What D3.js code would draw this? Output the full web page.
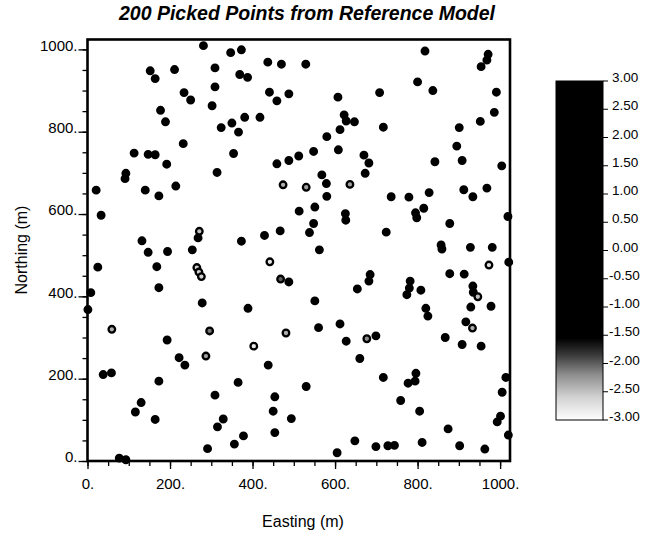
<!DOCTYPE html>
<html><head><meta charset="utf-8">
<script src="https://cdn.jsdelivr.net/npm/d3@7"></script>
<style>body{margin:0;background:#fff}svg{display:block}text{font-family:"Liberation Sans",Arial,Helvetica,sans-serif;fill:#000}</style>
</head><body>
<script>
// [easting (m), northing (m), value]; value < -1.5 drawn grey-centred
const points = [
[281,1009,1],[347,992,1],[373,999,1],[437,969,1],[470,964,1],[152,948,1],[211,951,1],[309,955,1],[164,929,1],[369,939,1],
[388,932,1],[309,909,1],[234,895,1],[250,877,1],[441,896,1],[488,892,1],[459,875,1],[302,863,1],[177,852,1],[189,824,1],
[381,835,1],[418,835,1],[324,810,1],[350,821,1],[366,799,1],[232,771,1],[113,748,1],[147,745,1],[164,744,1],[354,747,1],
[192,721,1],[459,722,1],[488,730,1],[512,741,1],[93,699,1],[91,686,1],[314,701,1],[21,658,1],[140,658,1],[173,644,1],
[214,668,1],[474,671,-2.4],[33,597,1],[513,607,1],[271,558,-2.5],[268,542,1],[132,535,1],[429,548,1],[467,559,1],[373,534,1],
[818,996,1],[971,988,1],[968,974,1],[954,958,1],[529,964,1],[800,921,1],[837,900,1],[991,896,1],[708,895,1],[607,884,1],
[986,847,1],[622,841,1],[627,826,1],[647,824,1],[952,825,1],[717,811,1],[901,810,1],[612,805,1],[580,788,1],[895,765,1],
[608,756,1],[548,752,1],[670,743,1],[682,724,1],[842,727,1],[908,730,1],[1004,717,1],[568,695,1],[673,699,1],[579,674,1],
[530,665,-2.3],[636,672,-2.3],[580,643,1],[736,642,1],[779,641,1],[828,652,1],[912,659,1],[934,642,1],[968,663,1],[551,617,1],
[625,601,1],[626,585,1],[795,603,1],[798,591,1],[815,614,1],[1019,594,1],[548,577,1],[538,555,1],[724,556,1],[878,577,1],
[147,507,1],[194,509,1],[254,513,1],[25,471,1],[168,472,1],[265,470,-2.6],[270,459,-2.6],[276,448,-2.6],[442,484,-2.8],[468,442,-2.0],
[488,435,1],[8,409,1],[173,421,1],[1,368,1],[278,384,1],[389,371,1],[59,320,-2.4],[296,316,-2.1],[481,311,-2.4],[193,294,1],
[403,279,-2.8],[222,251,1],[287,255,-2.3],[236,233,1],[438,233,1],[38,210,1],[58,214,1],[173,194,1],[365,191,1],[309,160,1],
[454,156,1],[130,142,1],[116,119,1],[164,101,1],[450,121,1],[494,103,1],[315,83,1],[329,102,1],[378,61,1],[454,69,1],
[356,41,1],[291,30,1],[77,7,1],[93,3,1],
[562,513,1],[857,525,1],[859,515,1],[928,519,1],[981,519,1],[973,476,-2.7],[1021,483,1],[685,453,1],[682,437,1],[878,455,1],
[913,454,1],[654,418,1],[782,437,1],[780,420,1],[774,404,1],[808,415,1],[934,425,1],[935,410,1],[946,399,-2.5],[978,376,1],
[929,374,1],[551,389,1],[820,371,1],[825,352,1],[917,338,1],[933,323,-2.4],[560,324,1],[612,333,1],[627,291,1],[677,297,-2.2],
[699,304,1],[867,300,1],[908,283,1],[954,279,1],[660,249,1],[717,203,1],[796,213,1],[794,194,1],[777,189,1],[1014,203,1],
[530,181,1],[1005,167,1],[759,147,1],[805,121,1],[1001,109,1],[993,95,1],[1020,63,1],[874,78,1],[648,49,1],[811,45,1],
[699,35,1],[728,37,1],[744,38,1],[902,37,1],[963,29,1],[605,20,1]
];
const axisMinorTicks = d3.range(0, 1001, 50);
const axisMajorTicks = [0, 200, 400, 600, 800, 1000];
const colorbarTicks = [3, 2.5, 2, 1.5, 1, 0.5, 0, -0.5, -1, -1.5, -2, -2.5, -3];
const colorStops = [-3, -2.6, -2.2, -1.85, -1.55, 3];
const colorStopColors = ["#ffffff", "#d2d2d2", "#8e8e8e", "#3a3a3a", "#000000", "#000000"];

const W = 647, H = 534;
const svg = d3.select("body").append("svg").attr("width", W).attr("height", H);

const x = d3.scaleLinear().domain([0, 1024]).range([87.5, 510]);
const y = d3.scaleLinear().domain([0, 1024]).range([461, 39.5]);
const color = d3.scaleLinear().domain(colorStops).range(colorStopColors).clamp(true);

// title
svg.append("text").attr("x", 307).attr("y", 20).attr("text-anchor", "middle")
  .style("font-size", "19.5px").style("font-weight", "bold").style("font-style", "italic")
  .text("200 Picked Points from Reference Model");

// axes
const fmt = d => d + ".";
const gx = svg.append("g").attr("transform", `translate(0,${y(0)})`);
gx.call(d3.axisBottom(x).tickValues(axisMinorTicks).tickSize(5).tickFormat(""));
gx.append("g").call(d3.axisBottom(x).tickValues(axisMajorTicks).tickSize(8).tickPadding(9).tickFormat(fmt));
const gy = svg.append("g").attr("transform", `translate(${x(0)},0)`);
gy.call(d3.axisLeft(y).tickValues(axisMinorTicks).tickSize(5).tickFormat(""));
gy.append("g").call(d3.axisLeft(y).tickValues(axisMajorTicks).tickSize(9).tickPadding(1).tickFormat(fmt));
svg.selectAll(".domain").remove();
svg.selectAll(".tick line").attr("stroke", "#000").attr("stroke-width", 1.3);
svg.selectAll(".tick text").style("font-size", "15px").style("font-family", "'Liberation Sans',Arial,sans-serif").attr("fill", "#000");
gy.selectAll(".tick text").attr("dy", "0.05em");

// frame
svg.append("rect").attr("x", x(0)).attr("y", y(1024)).attr("width", x(1024) - x(0)).attr("height", y(0) - y(1024))
  .attr("fill", "none").attr("stroke", "#000").attr("stroke-width", 2.6);

// axis titles
svg.append("text").attr("x", 303).attr("y", 527).attr("text-anchor", "middle").style("font-size", "16px").text("Easting (m)");
svg.append("text").attr("transform", "translate(27,250) rotate(-90)").attr("text-anchor", "middle").style("font-size", "16px").text("Northing (m)");

// points
svg.append("g").selectAll("circle").data(points).join("circle")
  .attr("cx", d => x(d[0])).attr("cy", d => y(d[1])).attr("r", 3.3)
  .attr("fill", d => color(d[2])).attr("stroke", "#000").attr("stroke-width", 2.3);

// colorbar
const cb = d3.scaleLinear().domain([3, -3]).range([81, 420]);
const defs = svg.append("defs");
const grad = defs.append("linearGradient").attr("id", "cbg").attr("x1", 0).attr("x2", 0).attr("y1", 0).attr("y2", 1);
grad.selectAll("stop").data(colorStops.slice().reverse()).join("stop")
  .attr("offset", d => (3 - d) / 6).attr("stop-color", d => color(d));
svg.append("rect").attr("x", 556).attr("y", cb(3)).attr("width", 47).attr("height", cb(-3) - cb(3))
  .attr("fill", "url(#cbg)").attr("stroke", "#000").attr("stroke-width", 1);
const cbg = svg.append("g").attr("transform", "translate(603,0)");
cbg.selectAll("line").data(colorbarTicks).join("line")
  .attr("x1", 0).attr("x2", 5).attr("y1", d => cb(d)).attr("y2", d => cb(d)).attr("stroke", "#000").attr("stroke-width", 1);
cbg.selectAll("text").data(colorbarTicks).join("text")
  .attr("x", d => d < 0 ? 6 : 9).attr("y", d => cb(d) + 1)
  .style("font-size", "13.5px").text(d => d.toFixed(2));
</script>
</body></html>
